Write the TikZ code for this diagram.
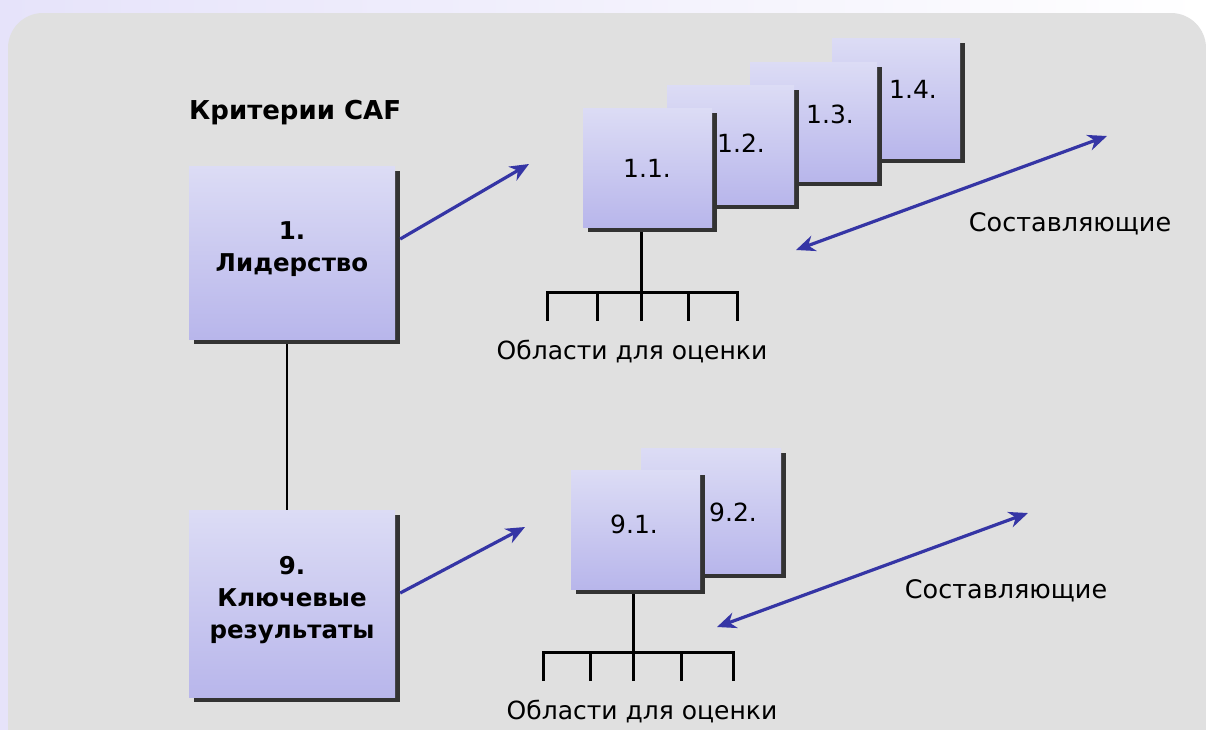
\documentclass[tikz,border=0pt]{standalone}
\usepackage{fontspec}
\setmainfont{DejaVu Sans}
\usetikzlibrary{arrows.meta,shadows}
\definecolor{bggray}{HTML}{E0E0E0}
\definecolor{lav}{HTML}{E6E3FA}
\definecolor{boxtop}{HTML}{DCDCF5}
\definecolor{boxbot}{HTML}{B8B6EB}
\definecolor{shadowc}{HTML}{333333}
\definecolor{arrowc}{HTML}{3535A5}
\tikzset{
  box/.style={rectangle, inner sep=0pt, draw=none, top color=boxtop, bottom color=boxbot,
    general shadow={fill=shadowc, shadow xshift=5pt, shadow yshift=-5pt}},
  bigtxt/.style={font=\bfseries\fontsize{24.5}{32}\selectfont, align=center, inner sep=0pt},
  subtxt/.style={font=\fontsize{25}{28}\selectfont, inner sep=0pt},
  plaintxt/.style={font=\fontsize{25.5}{28}\selectfont, inner sep=0pt},
  areatxt/.style={font=\fontsize{25}{28}\selectfont, inner sep=0pt},
  blueline/.style={draw=arrowc, line width=3.2pt},
  onehead/.style={blueline, -{Stealth[length=19pt,width=16pt,inset=6pt]}},
  twohead/.style={blueline, {Stealth[length=19pt,width=16pt,inset=6pt]}-{Stealth[length=19pt,width=16pt,inset=6pt]}},
  treeline/.style={draw=black, line width=3pt},
}
\begin{document}
\begin{tikzpicture}[x=1pt,y=-1pt]
\useasboundingbox (0,0) rectangle (1206,729);
\clip (0,0) rectangle (1206,729);
% slide background
\shade[left color=lav, right color=white] (0,0) rectangle (1206,729);
\fill[bggray, rounded corners=35pt] (8,13) rectangle (1206,770);

% title
\node[bigtxt, font=\bfseries\fontsize{26}{30}\selectfont, anchor=west] (title) at (189,113) {Критерии CAF};

% main boxes
\node[box, minimum width=206pt, minimum height=173pt] (b1) at (292,252.5) {};
\node[bigtxt] (b1t) at (292,249) {1.\\Лидерство};
\node[box, minimum width=206pt, minimum height=187pt] (b9) at (292,603.5) {};
\node[bigtxt] (b9t) at (292,600) {9.\\Ключевые\\результаты};

\draw[draw=black, line width=2.4pt] ([xshift=-5pt,yshift=-5pt]b1.south) -- ([xshift=-5pt]b9.north);

% sub boxes of criterion 1
\node[box, minimum width=128pt, minimum height=120pt] (b14) at (896,98) {};
\node[box, minimum width=127pt, minimum height=119pt] (b13) at (813.5,121.5) {};
\node[box, minimum width=127pt, minimum height=119pt] (b12) at (730.5,144.5) {};
\node[box, minimum width=129pt, minimum height=119pt] (b11) at (647.5,167.5) {};
\node[subtxt] (l11) at (647,168) {1.1.};
\node[subtxt] (l12) at (741,143) {1.2.};
\node[subtxt] (l13) at (830,114) {1.3.};
\node[subtxt] (l14) at (913,89) {1.4.};

% sub boxes of criterion 9
\node[box, minimum width=140pt, minimum height=125pt] (b92) at (711,510.5) {};
\node[box, minimum width=129pt, minimum height=119pt] (b91) at (635.5,529.5) {};
\node[subtxt] (l91) at (634,524) {9.1.};
\node[subtxt] (l92) at (733,512) {9.2.};

% arrows
\coordinate (a1e) at (529,164);
\draw[onehead] ([xshift=5pt,yshift=13.5pt]b1.east) -- (a1e);
\coordinate (a9e) at (525,527);
\draw[onehead] ([xshift=5pt,yshift=10.5pt]b9.east) -- (a9e);

\coordinate (c1s) at (796,250);
\coordinate (c1e) at (1107,136);
\draw[twohead] (c1s) -- (c1e);
\coordinate (c9s) at (717,627);
\coordinate (c9e) at (1028,513);
\draw[twohead] (c9s) -- (c9e);

\node[plaintxt] (s1) at (1070,224) {Составляющие};
\node[plaintxt] (s9) at (1006,591) {Составляющие};

% tree 1
\coordinate (t1) at (641,292);
\draw[treeline] ([xshift=-6.5pt,yshift=-5pt]b11.south) -- (t1);
\draw[treeline] (547,292) -- (738,292);
\foreach \x in {547,597,641,688,737} \draw[treeline] (\x,291) -- (\x,321);
\node[areatxt] (o1) at (632,352) {Области для оценки};

% tree 9
\coordinate (t9) at (633,652);
\draw[treeline] ([xshift=-2.5pt,yshift=-5pt]b91.south) -- (t9);
\draw[treeline] (543,652) -- (734,652);
\foreach \x in {543,590,633,681,733} \draw[treeline] (\x,651) -- (\x,681);
\node[areatxt] (o9) at (642,712) {Области для оценки};
\end{tikzpicture}
\end{document}
